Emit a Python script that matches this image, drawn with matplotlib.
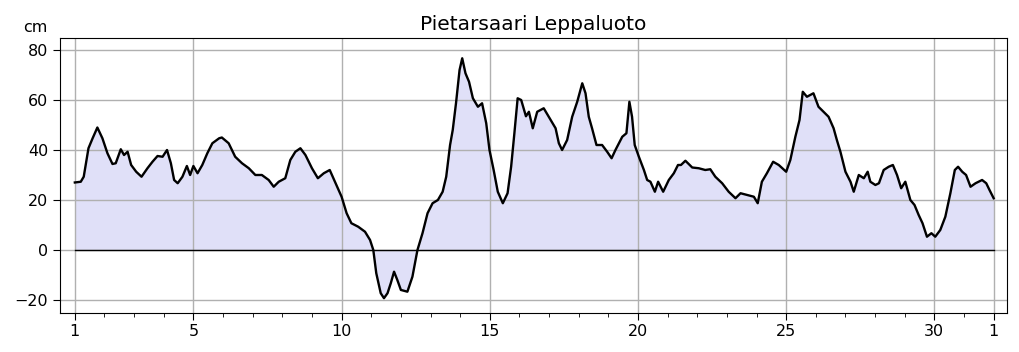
import matplotlib
matplotlib.use("Agg")
import matplotlib.pyplot as plt
from matplotlib.ticker import FixedLocator, MultipleLocator

TITLE = "Pietarsaari Leppaluoto"
UNIT = "cm"

# time in days (1 = start of month, 32 = first day of next month)
days = [
    1.0, 1.2, 1.3, 1.46, 1.6, 1.76, 1.93, 2.1, 2.27, 2.38, 2.55, 2.66, 2.78, 2.9,
    3.07, 3.25, 3.45, 3.62, 3.79, 3.96, 4.11, 4.24, 4.35, 4.47, 4.63, 4.78, 4.89,
    5.0, 5.14, 5.3, 5.47, 5.64, 5.87, 5.96, 6.19, 6.41, 6.64, 6.87, 7.09, 7.31,
    7.54, 7.71, 7.88, 8.1, 8.27, 8.44, 8.61, 8.78, 9.0, 9.2, 9.4, 9.6, 9.8, 10.0,
    10.17, 10.33, 10.56, 10.79, 10.96, 11.07, 11.17, 11.32, 11.43, 11.55, 11.66,
    11.77, 11.88, 12.0, 12.22, 12.39, 12.56, 12.73, 12.9, 13.07, 13.25, 13.41,
    13.53, 13.66, 13.75, 13.86, 13.98, 14.07, 14.18, 14.3, 14.43, 14.6, 14.74,
    14.88, 14.99, 15.13, 15.27, 15.44, 15.6, 15.72, 15.83, 15.94, 16.06, 16.22,
    16.32, 16.45, 16.6, 16.82, 16.99, 17.22, 17.33, 17.44, 17.61, 17.78, 17.95,
    18.12, 18.23, 18.34, 18.45, 18.6, 18.79, 18.96, 19.11, 19.24, 19.47, 19.61,
    19.71, 19.8, 19.89, 20.03, 20.2, 20.31, 20.42, 20.57, 20.68, 20.85, 21.04,
    21.21, 21.35, 21.45, 21.6, 21.83, 22.05, 22.27, 22.44, 22.61, 22.84, 23.06,
    23.29, 23.46, 23.68, 23.91, 24.04, 24.18, 24.35, 24.56, 24.75, 25.0, 25.14,
    25.31, 25.45, 25.56, 25.7, 25.92, 26.09, 26.26, 26.43, 26.6, 26.71, 26.83,
    27.0, 27.17, 27.28, 27.45, 27.62, 27.75, 27.84, 28.01, 28.13, 28.29, 28.46,
    28.6, 28.74, 28.88, 29.02, 29.19, 29.33, 29.47, 29.6, 29.75, 29.9, 30.03,
    30.2, 30.37, 30.54, 30.69, 30.8, 30.94, 31.07, 31.22, 31.39, 31.61, 31.75,
    31.86, 32.0,
]

# sea level in cm
level = [
    27, 27.3, 29.3, 40.7, 44.7, 49, 44.7, 38.7, 34.4, 34.7, 40.3, 38, 39.3, 34,
    31.3, 29.3, 32.7, 35.3, 37.6, 37.3, 40, 34.7, 28, 26.7, 29.3, 33.6, 30,
    33.6, 30.7, 34, 38.7, 42.7, 44.7, 45, 42.7, 37.3, 34.7, 32.7, 30, 30,
    28, 25.3, 27.3, 28.7, 36, 39.3, 40.7, 38, 32.7, 28.7, 30.7, 32, 26.7, 21.3,
    14.7, 10.7, 9.3, 7.3, 4, 0, -9.3, -17.3, -19.3, -17.3, -13.3,
    -8.7, -12, -16, -16.7, -10.7, 0, 6.7, 14.7, 18.7, 20, 23.3,
    29.3, 42, 48, 58.7, 72, 76.7, 70.7, 67.3, 60.7, 57.3, 58.7,
    50.7, 40, 32, 23.3, 18.7, 22.7, 33.3, 46.7, 60.7, 60, 53.5,
    55.3, 48.7, 55.3, 56.7, 53.3, 48.7, 42.7, 40, 44, 53.3, 59.3,
    66.7, 62.7, 53.3, 48.7, 42, 42, 39.3, 36.7, 40, 45.3, 46.7,
    59.3, 53.3, 42, 37.3, 32, 28, 27.3, 23.3, 27.3, 23.3, 28,
    30.7, 34, 34, 35.7, 33, 32.7, 32, 32.3, 29.3, 26.7, 23.3,
    20.7, 22.7, 22, 21.3, 18.7, 27.3, 30.7, 35.3, 34, 31.3, 36,
    45.3, 52, 63.3, 61.3, 62.7, 57.3, 55.3, 53.3, 48.7, 44, 39.3,
    31.3, 27.3, 23.3, 30, 28.7, 31.3, 27.3, 26, 26.7, 32, 33.3,
    34, 30, 24.7, 27.3, 20, 18, 14, 10.7, 5.3, 6.7, 5.3,
    8, 13.3, 22.7, 32, 33.3, 31.3, 30, 25.3, 26.7, 28, 26.7,
    24, 20.7,
]

xtick_pos = [1, 5, 10, 15, 20, 25, 30, 32]
xtick_labels = ["1", "5", "10", "15", "20", "25", "30", "1"]
ytick_pos = [-20, 0, 20, 40, 60, 80]

fig = plt.figure(figsize=(10.19, 3.52), dpi=100)
ax = fig.add_axes([0.0589, 0.1117, 0.9296, 0.7795])

ax.fill_between(days, level, 0, color="#e0e0f8", linewidth=0)
ax.plot([days[0], days[-1]], [0, 0], color="black", linewidth=1.0)
ax.plot(days, level, color="black", linewidth=1.7)

ax.set_xlim(0.5, 32.46)
ax.set_ylim(-25.1, 84.7)
ax.xaxis.set_major_locator(FixedLocator(xtick_pos))
ax.set_xticklabels(xtick_labels)
ax.xaxis.set_minor_locator(MultipleLocator(1))
ax.set_yticks(ytick_pos)
ax.tick_params(labelsize=11.5)
ax.tick_params(which="major", length=5)
ax.tick_params(which="minor", length=3)
ax.grid(True, which="major", color="#b0b0b0", linewidth=1.0)

ax.set_title(TITLE, fontsize=14.5, pad=6)
ax.text(-0.026, 1.022, UNIT, transform=ax.transAxes, ha="center",
        va="baseline", fontsize=11.5)

fig.savefig("out.png", dpi=100)
